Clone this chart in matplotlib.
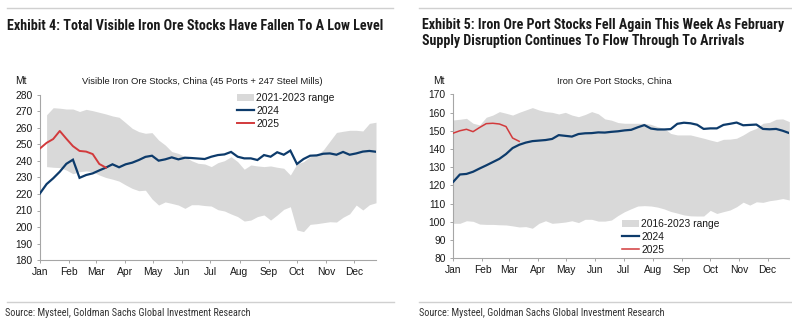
import numpy as np
import matplotlib
matplotlib.use("Agg")
import matplotlib.pyplot as plt
from matplotlib import font_manager
from matplotlib.patches import Patch
from matplotlib.lines import Line2D

# ---------------- data ----------------
months = ["Jan", "Feb", "Mar", "Apr", "May", "Jun", "Jul", "Aug", "Sep", "Oct", "Nov", "Dec"]
month_start_day = [0, 31, 59, 90, 120, 151, 181, 212, 243, 273, 304, 334]

# Exhibit 4: visible iron ore stocks (Mt), weekly
left_2024 = [220.4, 226.0, 229.5, 233.5, 238.3, 240.8, 229.8, 231.5, 232.5, 234.3,
             236.0, 238.0, 236.2, 238.0, 239.0, 240.6, 242.5, 243.2, 240.2, 241.0,
             242.2, 241.0, 242.0, 241.8, 241.5, 241.2, 242.6, 243.6, 244.0, 245.5,
             242.6, 241.6, 241.6, 240.6, 243.6, 242.6, 245.3, 243.8, 246.3, 238.2,
             241.2, 243.2, 243.4, 244.4, 244.6, 243.8, 245.5, 243.8, 244.6, 245.7,
             246.1, 245.6]
left_2025 = [247.6, 251.0, 253.3, 258.2, 253.5, 249.0, 246.1, 245.7, 244.2, 238.2, 236.0]
left_range_high = [None, 268.0, 272.3, 272.0, 271.5, 271.5, 270.0, 271.3, 270.5, 269.5,
                   268.5, 267.3, 266.5, 263.2, 259.8, 257.8, 256.8, 257.2, 252.7, 249.7,
                   245.7, 244.6, 242.6, 240.2, 238.6, 238.2, 236.6, 239.0, 240.2, 242.6,
                   239.6, 235.0, 237.6, 237.0, 236.6, 237.0, 236.2, 235.6, 231.5, 238.2,
                   239.6, 242.6, 243.6, 246.7, 252.0, 257.3, 258.0, 258.6, 258.6, 258.2,
                   262.8, 263.5]
left_range_low = [None, 236.6, 236.2, 236.0, 234.5, 232.3, 233.5, 234.0, 233.5, 231.5,
                  230.0, 229.0, 227.8, 225.5, 223.4, 222.0, 222.3, 217.0, 213.3, 215.2,
                  214.3, 213.3, 211.3, 213.5, 213.5, 213.0, 212.7, 210.5, 209.7, 207.9,
                  206.3, 203.6, 204.2, 206.3, 207.3, 204.2, 207.3, 210.7, 212.3, 198.2,
                  197.2, 201.6, 202.0, 202.6, 203.2, 203.0, 205.9, 208.0, 213.3, 210.3,
                  213.5, 214.7]

# Exhibit 5: iron ore port stocks (Mt), weekly
right_2024 = [122.0, 126.0, 126.3, 127.5, 129.3, 131.0, 132.8, 134.6, 137.2, 140.5,
              142.3, 143.5, 144.3, 144.6, 144.9, 145.5, 147.6, 147.2, 146.8, 148.2,
              148.6, 148.7, 149.1, 149.0, 149.4, 149.7, 150.2, 150.5, 151.9, 153.1,
              151.2, 150.7, 150.7, 150.9, 153.8, 154.4, 154.1, 153.3, 151.0, 151.3,
              151.3, 153.2, 153.8, 154.5, 153.0, 153.2, 153.4, 151.0, 150.8, 151.0,
              150.0, 148.7]
right_2025 = [148.7, 150.0, 150.8, 149.5, 151.8, 153.9, 154.1, 153.7, 152.3, 146.0, 144.2]
right_range_high = [155.9, 156.3, 156.8, 154.1, 153.2, 157.4, 158.6, 160.5, 159.6, 158.6,
                    160.1, 161.4, 162.7, 161.4, 160.5, 160.1, 159.2, 160.1, 158.6, 157.7,
                    158.9, 160.5, 159.3, 156.5, 155.8, 154.5, 154.1, 154.1, 154.1, 154.1,
                    153.5, 152.2, 151.3, 148.5, 147.7, 147.7, 147.7, 146.8, 145.9, 144.9,
                    144.0, 145.3, 145.4, 145.9, 147.7, 149.9, 151.3, 154.1, 154.6, 156.3,
                    156.5, 155.0]
right_range_low = [99.2, 99.2, 100.6, 100.3, 98.8, 98.6, 98.6, 98.4, 98.3, 97.8,
                   97.2, 97.4, 96.5, 99.2, 100.6, 99.2, 99.5, 99.9, 100.6, 99.6,
                   101.4, 101.4, 100.4, 100.4, 101.0, 103.5, 105.6, 107.2, 108.7, 108.9,
                   108.7, 108.1, 107.1, 105.7, 104.8, 103.8, 103.3, 103.2, 103.2, 106.3,
                   104.6, 105.6, 106.5, 108.3, 110.8, 109.2, 111.0, 110.7, 111.6, 112.1,
                   112.8, 112.0]

left_title = "Exhibit 4: Total Visible Iron Ore Stocks Have Fallen To A Low Level"
right_title = ("Exhibit 5: Iron Ore Port Stocks Fell Again This Week As February\n"
               "Supply Disruption Continues To Flow Through To Arrivals")
left_sub = "Visible Iron Ore Stocks, China (45 Ports + 247 Steel Mills)"
right_sub = "Iron Ore Port Stocks, China"
source = "Source: Mysteel, Goldman Sachs Global Investment Research"
left_labels = ["2021-2023 range", "2024", "2025"]
right_labels = ["2016-2023 range", "2024", "2025"]

# ---------------- style ----------------
names = {f.name for f in font_manager.fontManager.ttflist}
def pick(cands):
    for c in cands:
        if c in names:
            return c
    return "DejaVu Sans"
BASE = pick(["Liberation Sans", "Arial", "DejaVu Sans"])
NARROW = pick(["Liberation Sans Narrow", "Roboto Condensed", "Open Sans Condensed", BASE])

plt.rcParams["font.family"] = [BASE, "DejaVu Sans"]

BLUE = "#0d3b6b"
RED = "#d23a3c"
BAND = "#d9d9d9"
SPINE = "#a6a6a6"
TXT = "#1a1a1a"

W, H = 792, 321
fig = plt.figure(figsize=(W / 100, H / 100), dpi=100)
fig.patch.set_facecolor("white")

def fx(x):
    return x / W

def fy(y):
    return 1 - y / H

def fit(t, target_px):
    r = fig.canvas.get_renderer()
    w = t.get_window_extent(r).width
    t.set_fontsize(t.get_fontsize() * target_px / w)

def make_axes(x0, x1, ytop, ybot):
    return fig.add_axes([fx(x0), fy(ybot), (x1 - x0) / W, (ybot - ytop) / H])

def style(ax, ylo, yhi, step):
    ax.set_xlim(0, 357)
    ax.set_ylim(ylo, yhi)
    ax.set_yticks(np.arange(ylo, yhi + 0.1, step))
    ax.set_xticks(month_start_day)
    ax.set_xticklabels(months)
    for s in ["top", "right"]:
        ax.spines[s].set_visible(False)
    for s in ["left", "bottom"]:
        ax.spines[s].set_color(SPINE)
        ax.spines[s].set_linewidth(0.8)
    ax.tick_params(axis="both", colors=SPINE, labelcolor=TXT, labelsize=7.4,
                   length=2.5, width=0.7, direction="out")
    ax.tick_params(axis="y", pad=3)
    ax.tick_params(axis="x", pad=2.5)
    ax.set_facecolor("none")

days = np.arange(52) * 7

def arr(v):
    return np.array([np.nan if a is None else a for a in v], dtype=float)

# ---------------- left chart ----------------
axL = make_axes(40, 376, 95, 260)
style(axL, 180, 280, 10)
axL.fill_between(days, arr(left_range_low), arr(left_range_high), color=BAND, lw=0, zorder=1)
axL.plot(days, left_2024, color=BLUE, lw=1.6, zorder=3, solid_joinstyle="miter")
axL.plot(days[:len(left_2025)], left_2025, color=RED, lw=1.4, zorder=4)

# ---------------- right chart ----------------
axR = make_axes(453.3, 789.3, 94.3, 258.3)
style(axR, 80, 170, 10)
axR.fill_between(days, right_range_low, right_range_high, color=BAND, lw=0, zorder=1)
axR.plot(days, right_2024, color=BLUE, lw=1.6, zorder=3)
axR.plot(days[:len(right_2025)], right_2025, color=RED, lw=1.1, zorder=4)

def legend(ax, labels, anchor, red_lw):
    h = [Patch(facecolor=BAND, edgecolor="none"),
         Line2D([], [], color=BLUE, lw=1.6),
         Line2D([], [], color=RED, lw=red_lw)]
    lg = ax.legend(h, labels, loc="upper left", bbox_to_anchor=anchor, frameon=False,
                   fontsize=7.4, handlelength=1.7, handleheight=0.75, handletextpad=0.15,
                   labelspacing=0.28, borderpad=0, borderaxespad=0)
    for t in lg.get_texts():
        t.set_color(TXT)
    return lg

legend(axL, left_labels, ((237 - 40) / 336, (260 - 93) / 165), 1.4)
legend(axR, right_labels, ((622 - 453.3) / 336, (258.3 - 219) / 164), 1.1)

# ---------------- texts ----------------
t1 = fig.text(fx(7), fy(29.5), left_title, fontsize=9, fontweight="bold",
              family=[NARROW, "DejaVu Sans"], color=TXT, va="baseline", ha="left")
t2 = fig.text(fx(421.5), fy(29.5), right_title.split("\n")[0], fontsize=9, fontweight="bold",
              family=[NARROW, "DejaVu Sans"], color=TXT, va="baseline", ha="left")
t3 = fig.text(fx(421.5), fy(45), right_title.split("\n")[1], fontsize=9, fontweight="bold",
              family=[NARROW, "DejaVu Sans"], color=TXT, va="baseline", ha="left")
fit(t1, 379)
fit(t2, 363)
t3.set_fontsize(t2.get_fontsize())

s1 = fig.text(fx(202), fy(84), left_sub, fontsize=7, color=TXT, va="baseline", ha="center")
s2 = fig.text(fx(614.5), fy(84), right_sub, fontsize=7, color=TXT, va="baseline", ha="center")
fit(s1, 240)
fit(s2, 115)

fig.text(fx(15), fy(84), "Mt", fontsize=7.4, color=TXT, va="baseline", ha="left")
fig.text(fx(433), fy(84), "Mt", fontsize=7.4, color=TXT, va="baseline", ha="left")

for x0 in (5, 419.5):
    sc = fig.text(fx(x0), fy(316), source, fontsize=7, color="#333333",
                  family=[NARROW, "DejaVu Sans"], va="baseline", ha="left")
    fit(sc, 246)

# rules
for (x0, x1, y) in [(7, 393, 8), (419, 792, 8), (7, 394, 302), (419, 792, 302)]:
    fig.add_artist(Line2D([fx(x0), fx(x1)], [fy(y), fy(y)], color="#d0d0d0", lw=1.0,
                          transform=fig.transFigure))

fig.savefig("out.png", dpi=100)
